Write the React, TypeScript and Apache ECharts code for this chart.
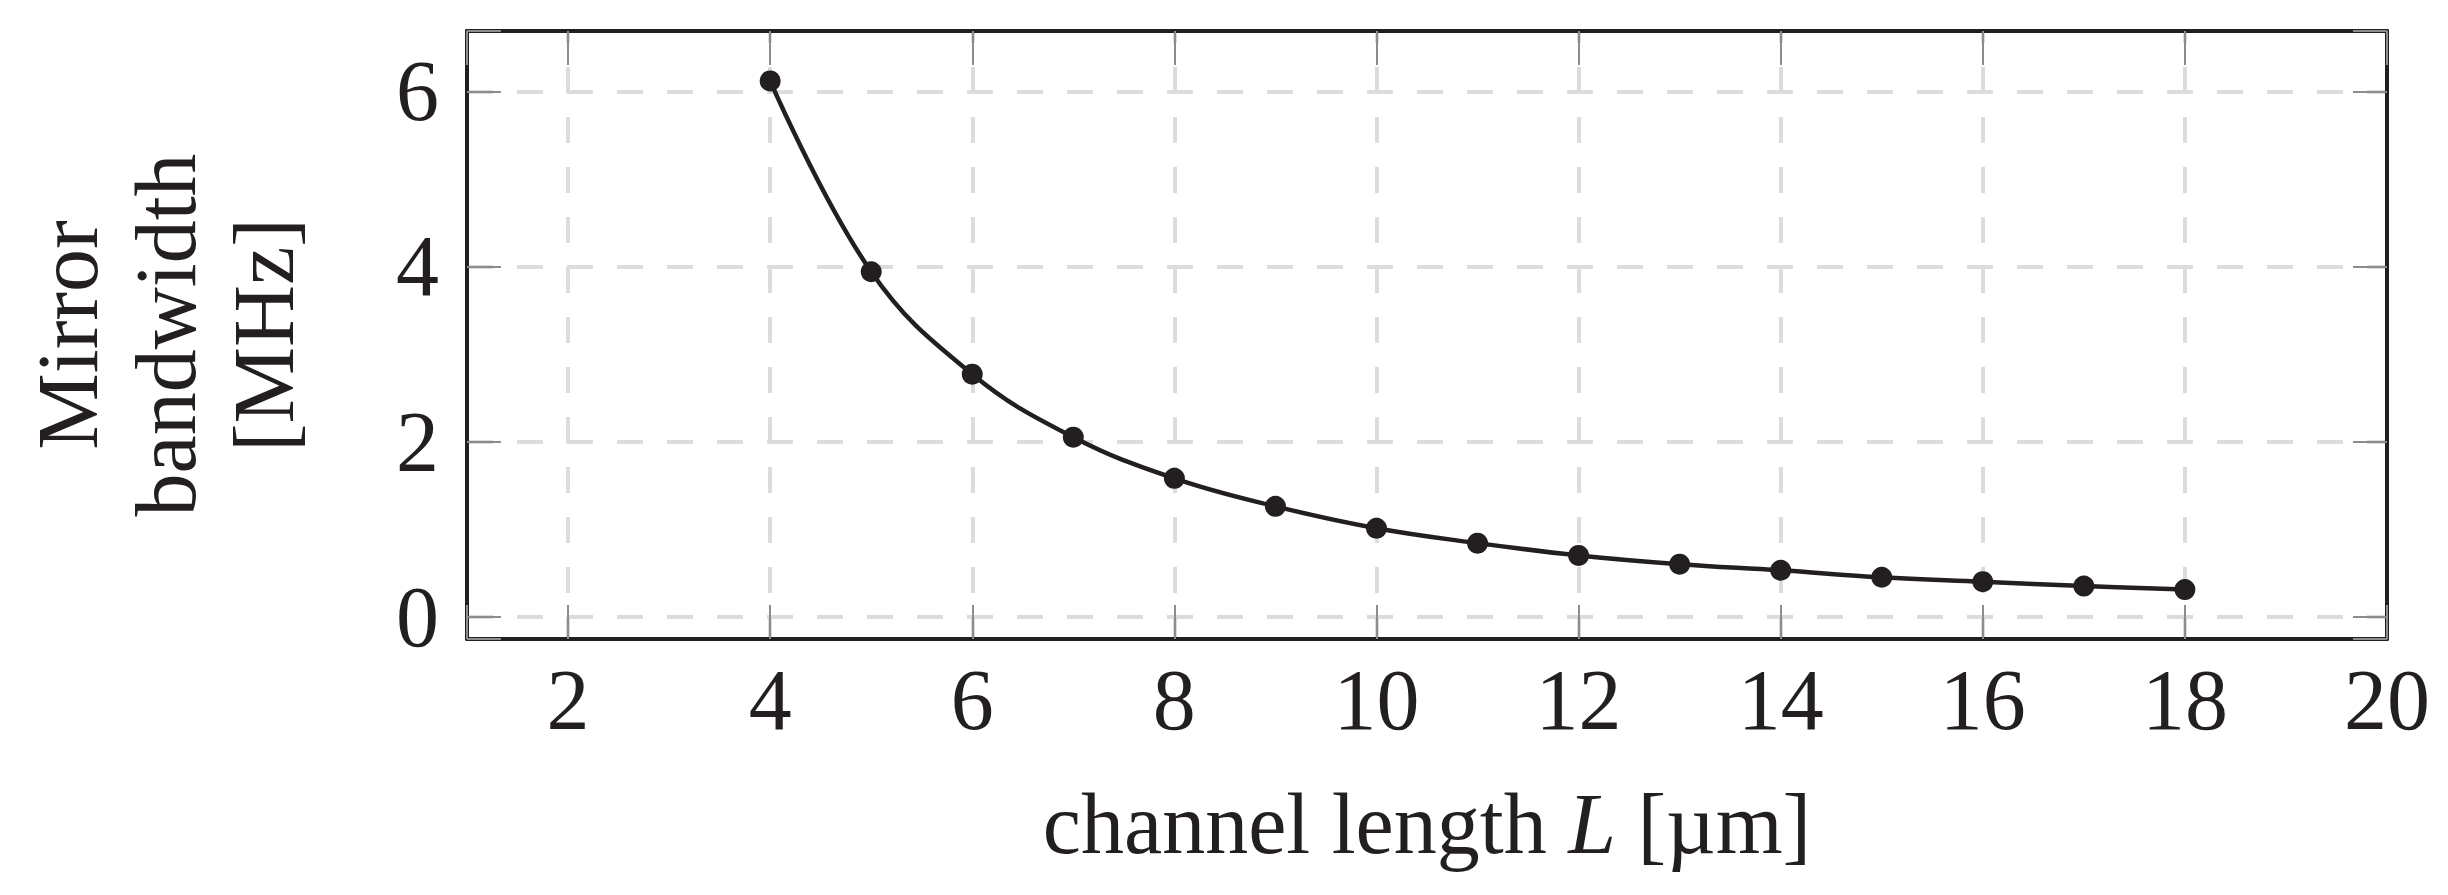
import React, { useEffect, useRef } from "react";
import * as echarts from "echarts";

const lengths = [4, 5, 6, 7, 8, 9, 10, 11, 12, 13, 14, 15, 16, 17, 18];
const bandwidth = [6.12, 3.94, 2.77, 2.05, 1.58, 1.26, 1.01, 0.84, 0.7, 0.6, 0.53, 0.45, 0.4, 0.35, 0.31];
const xTitle = "channel length {i|L} [µm]";
const yTitle = "Mirror\nbandwidth\n[MHz]";

const INK = "#231f20";
const FONT = "'Liberation Serif', 'DejaVu Serif', serif";

export default function App() {
  const ref = useRef<HTMLDivElement>(null);
  useEffect(() => {
    document.body.style.margin = "0";
    if (!ref.current) return;
    const chart = echarts.init(ref.current, null, { renderer: "svg" });
    const labelStyle = { fontSize: 86, fontFamily: FONT, color: INK };
    const tick = { show: true, inside: true, length: 34, lineStyle: { color: "#8c8c8c", width: 2 } };
    const axisLine = { show: true, onZero: false, lineStyle: { color: INK, width: 4 } };
    const fmt = (v: number) => (Math.abs(v % 2) < 1e-9 ? String(v) : "");
    chart.setOption({
      animation: false,
      backgroundColor: "#ffffff",
      grid: { left: 467, top: 31, width: 1920, height: 608, containLabel: false },
      xAxis: [
        {
          type: "value",
          position: "bottom",
          min: 1,
          max: 20,
          splitNumber: 10,
          axisLine,
          axisTick: tick,
          axisLabel: { ...labelStyle, margin: 18, formatter: fmt },
          splitLine: { show: true, lineStyle: { color: "#dcdcdc", width: 4, type: [26, 24], dashOffset: 14 } },
          name: xTitle,
          nameLocation: "middle",
          nameGap: 142,
          nameTextStyle: {
            ...labelStyle,
            rich: { i: { ...labelStyle, fontStyle: "italic" } },
          },
        },
        {
          type: "value",
          position: "top",
          min: 1,
          max: 20,
          splitNumber: 10,
          axisLine,
          axisTick: tick,
          axisLabel: { show: false },
          splitLine: { show: false },
        },
      ],
      yAxis: [
        {
          type: "value",
          position: "left",
          min: -0.255,
          max: 6.69,
          splitNumber: 3,
          axisLine,
          axisTick: tick,
          axisLabel: { ...labelStyle, margin: 28, formatter: fmt },
          splitLine: { show: true, lineStyle: { color: "#dcdcdc", width: 4, type: [26, 24], dashOffset: 0 } },
          name: yTitle,
          nameLocation: "middle",
          nameRotate: 90,
          nameGap: 154,
          nameTextStyle: { ...labelStyle, lineHeight: 98 },
        },
        {
          type: "value",
          position: "right",
          min: -0.255,
          max: 6.69,
          splitNumber: 3,
          axisLine,
          axisTick: tick,
          axisLabel: { show: false },
          splitLine: { show: false },
        },
      ],
      series: [
        {
          type: "line",
          xAxisIndex: 0,
          yAxisIndex: 0,
          data: lengths.map((l, i) => [l, bandwidth[i]]),
          smooth: 0.4,
          symbol: "circle",
          symbolSize: 21,
          itemStyle: { color: INK },
          lineStyle: { color: INK, width: 4.5 },
        },
      ],
    });
    return () => chart.dispose();
  }, []);
  return <div ref={ref} style={{ width: 2448, height: 895 }} />;
}
